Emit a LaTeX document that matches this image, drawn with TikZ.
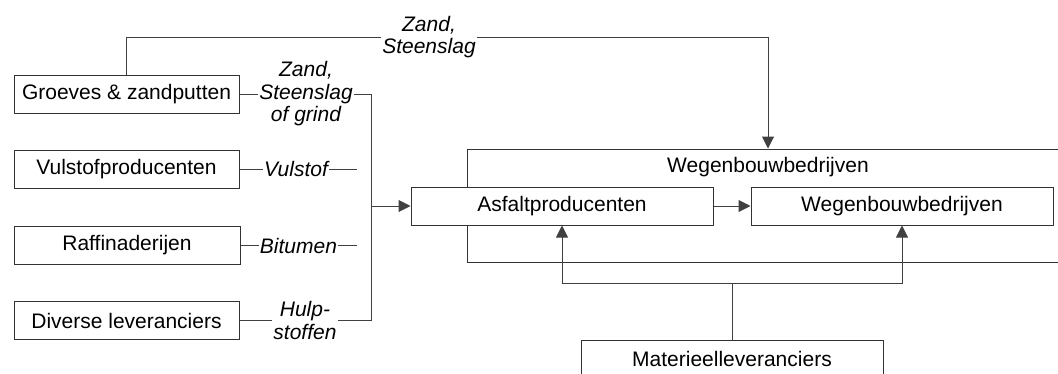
\documentclass[tikz,border=0pt]{standalone}
\usepackage{fontspec}
\setmainfont{Liberation Sans}
\usetikzlibrary{arrows.meta}
\begin{document}
\begin{tikzpicture}[x=1pt,y=-1pt,
  box/.style={draw=black!80, line width=1pt, fill=white, minimum height=38pt,
    inner sep=0pt, font=\fontsize{21}{23}\selectfont},
  title/.style={inner sep=0pt, font=\fontsize{21}{23}\selectfont},
  lbl/.style={inner sep=1pt, align=center, font=\itshape\fontsize{21}{22.5}\selectfont},
  conn/.style={draw=black!75, line width=1pt},
  arr/.style={conn, -{Triangle[length=12pt,width=12pt]}}]
\useasboundingbox (0,0) rectangle (1058,373);
\begin{scope}
\clip (0,0) rectangle (1058,373);

% suppliers on the left
\node[box, minimum width=225pt] (groeves) at (126.5,94) {Groeves \& zandputten};
\node[box, minimum width=225pt] (vulstof) at (126.5,169) {Vulstofproducenten};
\node[box, minimum width=226pt] (raff) at (127,245.5) {Raffinaderijen};
\node[box, minimum width=225pt] (divers) at (126.5,320.5) {Diverse leveranciers};

% road construction companies (container with two inner boxes)
\node[box, minimum width=602pt, minimum height=113pt] (wegcont) at (768,205.5) {};
\node[title] (wegtitle) at (768,167) {Wegenbouwbedrijven};
\node[box, minimum width=302pt] (asfalt) at (562,206) {Asfaltproducenten};
\node[box, minimum width=302pt] (wegen) at (902,206) {Wegenbouwbedrijven};

% equipment suppliers
\node[box, minimum width=302pt] (materieel) at (732,359) {Materieelleveranciers};

% flow labels
\node[lbl] (ltop) at (429,37) {Zand,\\Steenslag};
\node[lbl] (lzand) at (306,94) {Zand,\\Steenslag\\of grind};
\node[lbl] (lvul) at (296,169) {Vulstof};
\node[lbl] (lbit) at (298.5,245.5) {Bitumen};
\node[lbl] (lhulp) at (305,320.5) {Hulp-\\stoffen};

% bus and loose line ends
\coordinate (bustop) at (371,94);
\coordinate (busmid) at (371,206);
\coordinate (busbot) at (371,320.5);
\coordinate (vulend) at (357,169);
\coordinate (bitend) at (357,245.5);
\coordinate (mjoin) at (732,283);

% sand and gravel directly to the road builders
\draw[conn] (groeves.north) |- (ltop.west);
\draw[arr] (ltop.east) -| (wegcont.north);

% raw materials to the asphalt producers
\draw[conn] (groeves.east) -- (lzand.west);
\draw[conn] (lzand.east) -- (bustop) -- (busbot) -- (lhulp.east);
\draw[conn] (divers.east) -- (lhulp.west);
\draw[conn] (vulstof.east) -- (lvul.west);
\draw[conn] (lvul.east) -- (vulend);
\draw[conn] (raff.east) -- (lbit.west);
\draw[conn] (lbit.east) -- (bitend);
\draw[arr] (busmid) -- (asfalt.west);

% asphalt to road building
\draw[arr] (asfalt.east) -- (wegen.west);

% equipment
\draw[conn] (materieel.north) -- (mjoin);
\draw[arr] (mjoin) -| (asfalt.south);
\draw[arr] (mjoin) -| (wegen.south);
\end{scope}
\end{tikzpicture}
\end{document}
